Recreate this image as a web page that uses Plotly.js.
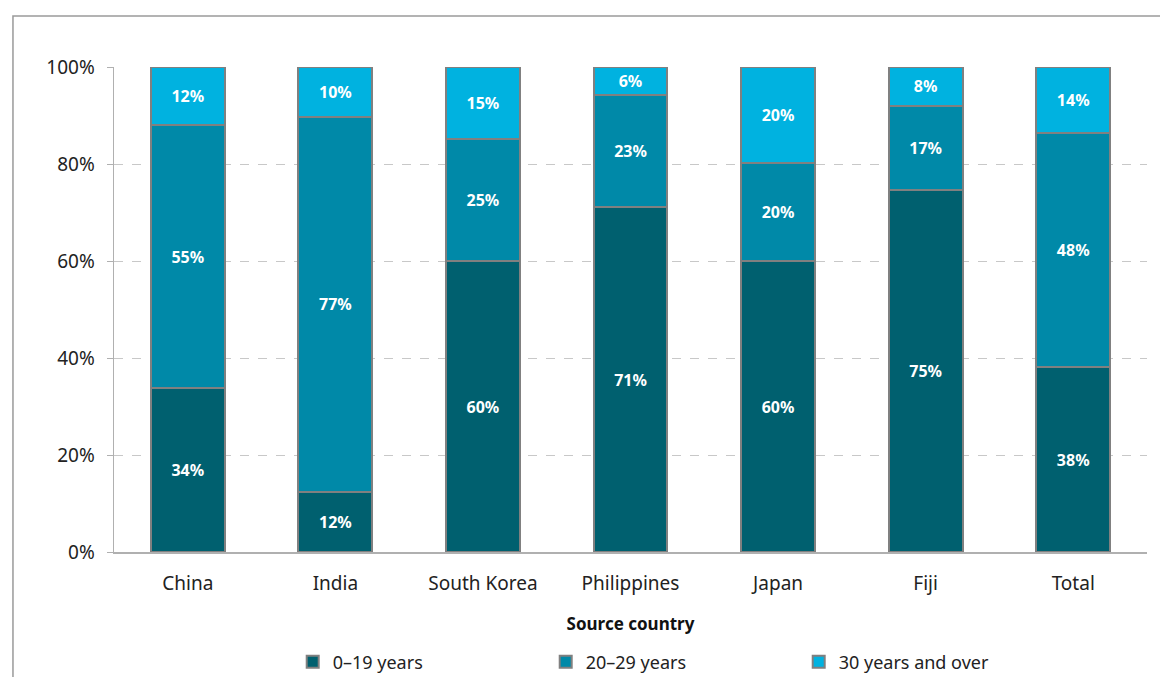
<!DOCTYPE html>
<html>
<head>
<meta charset="utf-8">
<script src="https://cdn.plot.ly/plotly-3.0.1.min.js"></script>
<style>html,body{margin:0;padding:0;background:#fff;}#chart{width:1160px;height:677px;}</style>
</head>
<body>
<div id="chart"></div>
<script>
const categories = ["China", "India", "South Korea", "Philippines", "Japan", "Fiji", "Total"];
const seriesNames = ["0\u201319 years", "20\u201329 years", "30 years and over"];
const age0to19 = [33.8, 12.4, 60.0, 71.1, 60.0, 74.6, 38.1];
const age20to29 = [54.2, 77.3, 25.2, 23.1, 20.2, 17.4, 48.3];
const age30plus = [12.0, 10.3, 14.8, 5.8, 19.8, 8.0, 13.6];
const labels0to19 = ["34%", "12%", "60%", "71%", "60%", "75%", "38%"];
const labels20to29 = ["55%", "77%", "25%", "23%", "20%", "17%", "48%"];
const labels30plus = ["12%", "10%", "15%", "6%", "20%", "8%", "14%"];
const yTicks = [0, 20, 40, 60, 80, 100];
const yTickLabels = ["0%", "20%", "40%", "60%", "80%", "100%"];

const colors = ["#00606F", "#0089A8", "#00B2E0"];
const font = "Noto Sans, Liberation Sans, Arial, sans-serif";

function mk(name, y, txt, color) {
  return {
    type: "bar", name: name, x: categories, y: y, text: txt,
    textposition: "inside", insidetextanchor: "middle", textangle: 0,
    constraintext: "none",
    textfont: {family: font, size: 16, color: "#ffffff", weight: "bold"},
    hoverinfo: "x+y+name",
    marker: {color: color, line: {color: "#808080", width: 2}}
  };
}
const data = [
  mk(seriesNames[0], age0to19, labels0to19, colors[0]),
  mk(seriesNames[1], age20to29, labels20to29, colors[1]),
  mk(seriesNames[2], age30plus, labels30plus, colors[2])
];

const layout = {
  width: 1160, height: 677,
  margin: {l: 114, r: 13, t: 67, b: 125, autoexpand: false},
  barmode: "stack", bargap: 0.5,
  paper_bgcolor: "#ffffff", plot_bgcolor: "#ffffff",
  font: {family: font, size: 17, color: "#222222"},
  showlegend: true,
  legend: {orientation: "h", x: 0.173, xanchor: "left", y: -0.227, yanchor: "middle",
           traceorder: "normal", entrywidth: 208, entrywidthmode: "pixels",
           font: {family: font, size: 18, color: "#222222"}, itemwidth: 30},
  xaxis: {
    showline: true, linecolor: "#b0b0b0", linewidth: 1.5, ticks: "", showgrid: false,
    tickfont: {family: font, size: 19, color: "#222222"}, ticklabelstandoff: 14,
    title: {text: "<b>Source country</b>", font: {family: font, size: 17, color: "#111111"}, standoff: 23},
    automargin: false
  },
  yaxis: {
    range: [0, 100], tickvals: yTicks, ticktext: yTickLabels,
    showline: true, linecolor: "#b0b0b0", linewidth: 1.5,
    ticks: "outside", ticklen: 6, tickcolor: "#b0b0b0", ticklabelstandoff: 8,
    showgrid: true, gridcolor: "#c8c8c8", griddash: "dash", gridwidth: 1,
    tickfont: {family: font, size: 19, color: "#222222"},
    zeroline: false, automargin: false
  },
  shapes: [{
    type: "rect", xref: "paper", yref: "paper",
    x0: -0.0978, x1: 1.05, y0: -0.35, y1: 1.105,
    line: {color: "#9a9a9a", width: 1.5}, fillcolor: "rgba(0,0,0,0)", layer: "below"
  }]
};
Plotly.newPlot("chart", data, layout, {displayModeBar: false, staticPlot: true});
</script>
</body>
</html>
